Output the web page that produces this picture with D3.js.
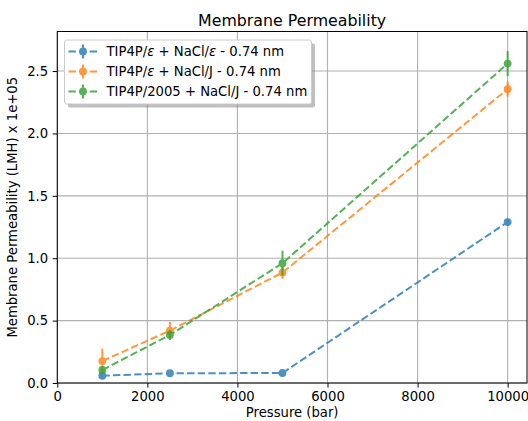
<!DOCTYPE html>
<html>
<head>
<meta charset="utf-8">
<script src="https://cdn.jsdelivr.net/npm/d3@7"></script>
<style>
  body { margin: 0; background: #fff; }
  text { font-family: "DejaVu Sans", sans-serif; fill: #000; }
</style>
</head>
<body>
<div id="chart"></div>
<script>
// data
const pressures = [1000, 2500, 5000, 10000];
const seriesNames = ['TIP4P/\u03b5 + NaCl/\u03b5 - 0.74 nm', 'TIP4P/\u03b5 + NaCl/J - 0.74 nm', 'TIP4P/2005 + NaCl/J - 0.74 nm'];
const blueValues = [0.058, 0.078, 0.080, 1.29];
const blueErrors = [0.01, 0.01, 0.01, 0.01];
const orangeValues = [0.176, 0.42, 0.885, 2.355];
const orangeErrors = [0.10, 0.07, 0.05, 0.06];
const greenValues = [0.104, 0.385, 0.96, 2.56];
const greenErrors = [0.03, 0.04, 0.10, 0.10];
const xTicks = [0, 2000, 4000, 6000, 8000, 10000];
const yTicks = [0, 0.5, 1.0, 1.5, 2.0, 2.5];
const colors = ['#1f77b4', '#ff7f0e', '#2ca02c'];

const width = 528, height = 421;
const margin = { top: 31.5, right: 1, bottom: 38, left: 57.3 };
const innerW = width - margin.left - margin.right;
const innerH = height - margin.top - margin.bottom;
const fs = '13.2px';

const series = [blueValues, orangeValues, greenValues].map((vals, i) => ({
  name: seriesNames[i],
  color: colors[i],
  points: pressures.map((p, j) => ({ x: p, y: vals[j], e: [blueErrors, orangeErrors, greenErrors][i][j] }))
}));

const svg = d3.select('#chart').append('svg')
  .attr('width', width)
  .attr('height', height);

/* plot title */
svg.append('text')
  .attr('x', margin.left + innerW / 2)
  .attr('y', 25.5)
  .attr('text-anchor', 'middle')
  .style('font-size', '15.8px')
  .text('Membrane Permeability');

const chartArea = svg.append('g')
  .attr('transform', `translate(${margin.left},${margin.top})`);

const xScale = d3.scaleLinear().domain([0, 10430]).range([0, innerW]);
const yScale = d3.scaleLinear().domain([0, 2.817]).range([innerH, 0]);

/* grid */
const grid = chartArea.append('g');
grid.selectAll('.gx').data(xTicks).join('line')
  .attr('x1', d => xScale(d)).attr('x2', d => xScale(d))
  .attr('y1', 0).attr('y2', innerH)
  .attr('stroke', '#b0b0b0').attr('stroke-width', 1.1);
grid.selectAll('.gy').data(yTicks).join('line')
  .attr('y1', d => yScale(d)).attr('y2', d => yScale(d))
  .attr('x1', 0).attr('x2', innerW)
  .attr('stroke', '#b0b0b0').attr('stroke-width', 1.1);

/* axes */
const xAxis = d3.axisBottom(xScale).tickValues(xTicks).tickFormat(d3.format('d')).tickSize(4.6).tickPadding(4.5);
const yAxis = d3.axisLeft(yScale).tickValues(yTicks).tickFormat(d3.format('.1f')).tickSize(4.6).tickPadding(4.5);

const xAxisGroup = chartArea.append('g')
  .attr('transform', `translate(0,${innerH})`)
  .call(xAxis);
const yAxisGroup = chartArea.append('g').call(yAxis);
[xAxisGroup, yAxisGroup].forEach(g => {
  g.select('.domain').remove();
  g.selectAll('line').attr('stroke', '#000').attr('stroke-width', 1);
  g.selectAll('text').style('font-size', fs).style('font-family', '"DejaVu Sans", sans-serif');
});

/* series */
const line = d3.line().x(d => xScale(d.x)).y(d => yScale(d.y));
series.forEach(s => {
  const g = chartArea.append('g').attr('opacity', 0.8);
  g.selectAll('.err').data(s.points).join('line')
    .attr('x1', d => xScale(d.x)).attr('x2', d => xScale(d.x))
    .attr('y1', d => yScale(d.y - d.e)).attr('y2', d => yScale(d.y + d.e))
    .attr('stroke', s.color).attr('stroke-width', 2);
  g.append('path')
    .datum(s.points)
    .attr('d', line)
    .attr('fill', 'none')
    .attr('stroke', s.color)
    .attr('stroke-width', 2)
    .attr('stroke-dasharray', '7.4,3.2');
  g.selectAll('.pt').data(s.points).join('circle')
    .attr('cx', d => xScale(d.x)).attr('cy', d => yScale(d.y))
    .attr('r', 3.9)
    .attr('fill', s.color);
});

/* spines */
chartArea.append('rect')
  .attr('width', innerW).attr('height', innerH)
  .attr('fill', 'none').attr('stroke', '#000').attr('stroke-width', 1);

/* axis titles */
svg.append('text')
  .attr('x', margin.left + innerW / 2)
  .attr('y', 417)
  .attr('text-anchor', 'middle')
  .style('font-size', fs)
  .text('Pressure (bar)');
svg.append('text')
  .attr('transform', `translate(17,${margin.top + innerH / 2})rotate(-90)`)
  .attr('text-anchor', 'middle')
  .style('font-size', fs)
  .text('Membrane Permeability (LMH) x 1e+05');

/* legend with shadow */
const lx = 64.5, ly = 40, lw = 247, lh = 64;
const legend = svg.append('g');
legend.append('rect')
  .attr('x', lx + 3.5).attr('y', ly + 3.5).attr('width', lw).attr('height', lh)
  .attr('rx', 2).attr('fill', '#808080').attr('opacity', 0.5);
legend.append('rect')
  .attr('x', lx).attr('y', ly).attr('width', lw).attr('height', lh)
  .attr('rx', 2).attr('fill', '#fff').attr('stroke', '#ccc').attr('stroke-width', 1);
series.forEach((s, i) => {
  const cy = ly + 11.5 + i * 20;
  const row = legend.append('g').attr('opacity', 0.8);
  row.append('line')
    .attr('x1', lx + 4).attr('x2', lx + 33).attr('y1', cy).attr('y2', cy)
    .attr('stroke', s.color).attr('stroke-width', 2)
    .attr('stroke-dasharray', '7.4,3.2');
  row.append('line')
    .attr('x1', lx + 18.5).attr('x2', lx + 18.5).attr('y1', cy - 7).attr('y2', cy + 7)
    .attr('stroke', s.color).attr('stroke-width', 2);
  row.append('circle')
    .attr('cx', lx + 18.5).attr('cy', cy).attr('r', 3.9).attr('fill', s.color);
  // the epsilon is set in math italic, as in the reference
  const label = legend.append('text')
    .attr('x', lx + 42).attr('y', cy + 4.8)
    .style('font-size', fs);
  s.name.split(/(\u03b5)/).forEach(part => {
    if (!part) return;
    label.append('tspan')
      .style('font-style', part === '\u03b5' ? 'italic' : 'normal')
      .text(part);
  });
});
</script>
</body>
</html>
